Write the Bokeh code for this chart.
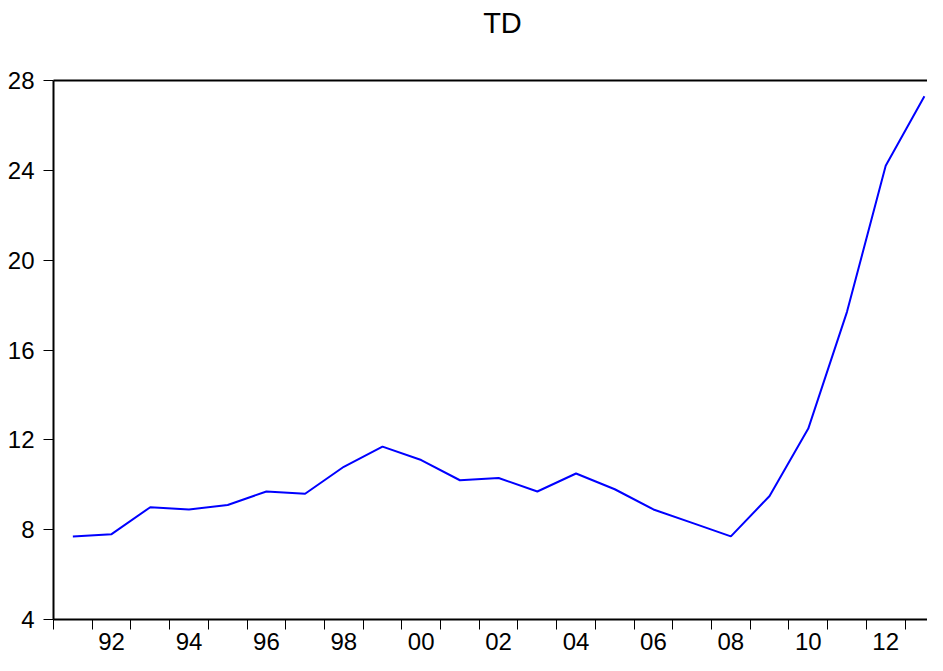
import numpy as np
from bokeh.plotting import figure
from bokeh.models import Range1d, FixedTicker, LinearAxis
from bokeh.embed import file_html
from bokeh.resources import INLINE

years = list(range(1991, 2014))
td = [7.7, 7.8, 9.0, 8.9, 9.1, 9.7, 9.6, 10.8, 11.7, 11.1, 10.2, 10.3,
      9.7, 10.5, 9.8, 8.9, 8.3, 7.7, 9.5, 12.5, 17.7, 24.2, 27.3]
label_years = [1992, 1994, 1996, 1998, 2000, 2002, 2004, 2006, 2008, 2010, 2012]
tick_labels = ["92", "94", "96", "98", "00", "02", "04", "06", "08", "10", "12"]
y_ticks = [4, 8, 12, 16, 20, 24, 28]
title_text = "TD"
title_x = 2002.1  # horizontal anchor of the title along the time axis

FONT = "Liberation Sans"

p = figure(width=927, height=655, output_backend="svg", toolbar_location=None,
           x_range=Range1d(1990.5, 2013.08), y_range=Range1d(4, 28),
           x_axis_type=None, y_axis_type=None,
           min_border_left=53, min_border_right=0, min_border_top=80, min_border_bottom=36)
p.outline_line_color = None
p.background_fill_color = "white"
p.border_fill_color = "white"

yaxis = LinearAxis(ticker=FixedTicker(ticks=y_ticks),
                   major_tick_in=0, major_tick_out=10, minor_tick_in=0, minor_tick_out=0,
                   axis_line_width=2, axis_line_color="black",
                   major_tick_line_color="black", major_tick_line_width=1,
                   major_label_standoff=9, major_label_text_font=FONT,
                   major_label_text_font_size="24px", major_label_text_color="black")
p.add_layout(yaxis, "left")

boundaries = [y - 0.5 for y in years] + [years[-1] + 0.5]
xaxis = LinearAxis(ticker=FixedTicker(ticks=label_years, minor_ticks=boundaries),
                   major_tick_in=0, major_tick_out=10, major_tick_line_color=None,
                   minor_tick_in=0, minor_tick_out=10, minor_tick_line_color="black",
                   minor_tick_line_width=1,
                   axis_line_width=2, axis_line_color="black",
                   major_label_standoff=3, major_label_text_font=FONT,
                   major_label_text_font_size="24px", major_label_text_color="black",
                   major_label_overrides=dict(zip(label_years, tick_labels)))
p.add_layout(xaxis, "below")

# top frame line; its single tick label carries the chart title
top = LinearAxis(ticker=FixedTicker(ticks=[title_x]), major_tick_in=0, major_tick_out=0,
                 major_tick_line_color=None,
                 minor_tick_in=0, minor_tick_out=0, axis_line_width=2,
                 axis_line_color="black", major_label_text_font=FONT,
                 major_label_text_font_size="29px", major_label_text_color="black",
                 major_label_standoff=42,
                 major_label_overrides={title_x: title_text})
p.add_layout(top, "above")

p.line(years, td, line_color="#0000FF", line_width=2)

open("out.html", "w").write(file_html(p, INLINE))
